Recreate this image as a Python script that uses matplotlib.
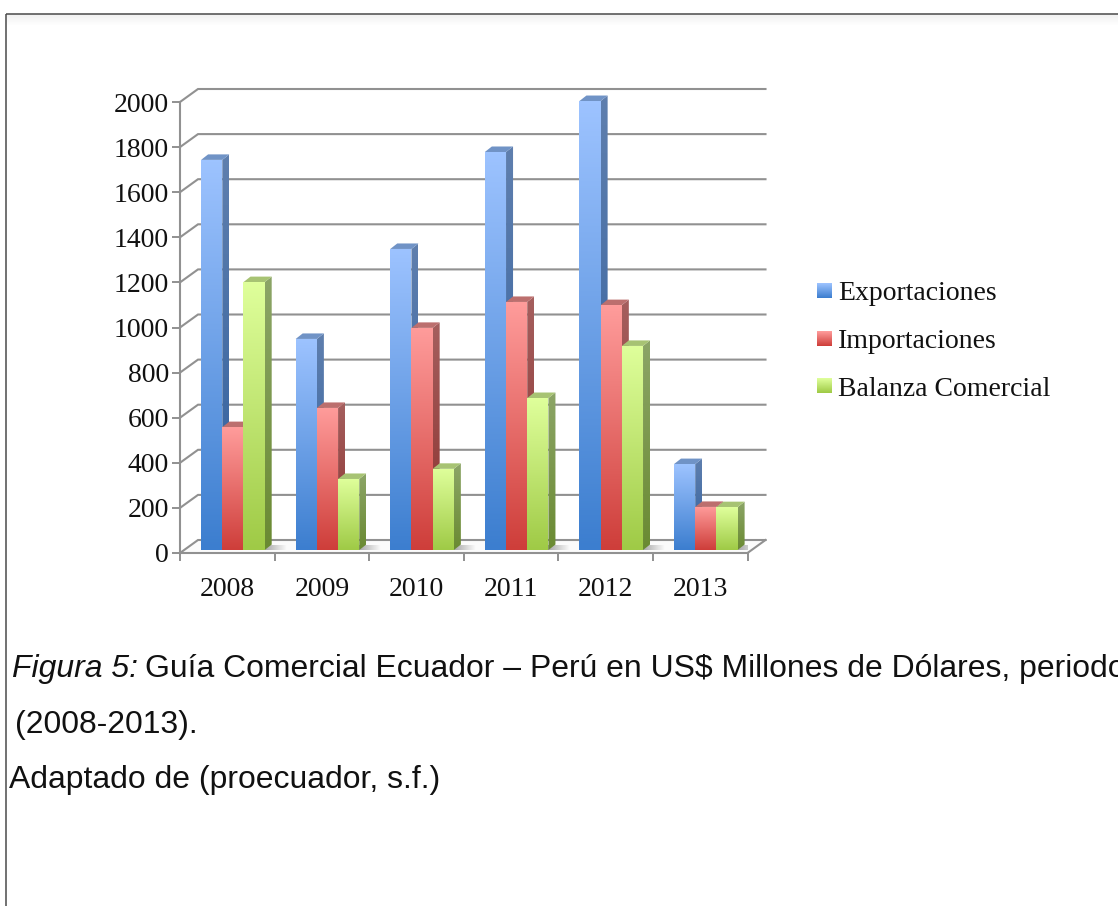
import numpy as np
import matplotlib
matplotlib.use("Agg")
import matplotlib.pyplot as plt
from matplotlib.colors import LinearSegmentedColormap
from matplotlib.patches import Polygon

years = ["2008", "2009", "2010", "2011", "2012", "2013"]
series_names = ["Exportaciones", "Importaciones", "Balanza Comercial"]
exportaciones = [1730, 936, 1335, 1765, 1991, 381]
importaciones = [545, 630, 985, 1100, 1086, 191]
balanza = [1188, 315, 360, 674, 905, 190]
y_ticks = list(range(0, 2001, 200))

front_top = ["#9DC3FF", "#FF9C9B", "#DFFF9B"]
front_bot = ["#3C7ECF", "#CE3E3A", "#9FCA46"]
side_top = ["#5F7FAE", "#A55F5E", "#8CA567"]
side_bot = ["#2F5F9E", "#8A302D", "#6A8A32"]
top_face = ["#7093C6", "#BC6F6E", "#A7C373"]
GRID = "#919191"

W, H = 1118, 906
fig = plt.figure(figsize=(W / 100, H / 100), dpi=100, facecolor="white")

# page layer (pixel coordinates)
page = fig.add_axes([0, 0, 1, 1], zorder=0)
page.set_xlim(0, W)
page.set_ylim(H, 0)
page.axis("off")
page.plot([6, W], [13.5, 13.5], color="#4a4a4a", lw=1.1, solid_capstyle="butt")
page.plot([6, 6], [13.5, H], color="#4a4a4a", lw=1.1, solid_capstyle="butt")
page.imshow(np.linspace(0, 1, 12).reshape(-1, 1), extent=(7, W, 26, 14), cmap=LinearSegmentedColormap.from_list("s", ["#f1f1f1", "#ffffff"]), aspect="auto", zorder=0)
page.set_xlim(0, W)
page.set_ylim(H, 0)

CAP = dict(family="Liberation Sans", fontsize=22.95, color="#111111", va="baseline", ha="left")
page.text(12, 677, "Figura 5:", style="italic", **CAP)
page.text(145, 677, "Guía Comercial Ecuador – Perú en US$ Millones de Dólares, periodo", **CAP)
page.text(15, 733, "(2008-2013).", **CAP)
page.text(9, 788, "Adaptado de (proecuador, s.f.)", **CAP)

# chart layer: front plane of the 3D box
L, R, T, B = 180.0, 747.5, 102.0, 553.0
ax = fig.add_axes([L / W, 1 - B / H, (R - L) / W, (B - T) / H], zorder=1)
ax.patch.set_alpha(0)
n = len(years)
xpx = (R - L) / n            # px per category
ypx = (B - T) / 2000.0       # px per value unit
to_x = lambda px: px / xpx
to_y = lambda px: px / ypx

DX, DY = to_x(18), to_y(13)
x0, x1 = -0.5, n - 0.5

# floor
ax.add_patch(Polygon([(x0, 0), (x1, 0), (x1 + DX, DY), (x0 + DX, DY)], closed=True, fc="#fbfbfb", ec="none", zorder=1, clip_on=False))

# walls gridlines
for v in y_ticks:
    ax.plot([x0, x0 + DX, x1 + DX], [v, v + DY, v + DY], color=GRID, lw=1.5, zorder=2, clip_on=False, solid_joinstyle="miter")
ax.plot([x1, x1 + DX], [0, DY], color=GRID, lw=1.5, zorder=2, clip_on=False)

shadow_cm = LinearSegmentedColormap.from_list("sh", ["#a8a8a8", "#fbfbfb"])


def grad_face(verts, c_top, c_bot, z):
    verts = np.array(verts)
    cm = LinearSegmentedColormap.from_list("g", [c_top, c_bot])
    ext = (verts[:, 0].min(), verts[:, 0].max(), verts[:, 1].min(), verts[:, 1].max())
    im = ax.imshow(np.linspace(0, 1, 128).reshape(-1, 1), extent=ext, cmap=cm, aspect="auto", origin="upper", zorder=z, interpolation="bilinear")
    poly = Polygon(verts, closed=True, transform=ax.transData, fc="none", ec="none", clip_on=False)
    ax.add_patch(poly)
    im.set_clip_path(poly)
    im.set_clip_box(fig.bbox)


bw = to_x(21.2)
dx, dy = to_x(7), to_y(5.5)
cluster_shift = to_x(5.6)
base = to_y(3)
all_series = [exportaciones, importaciones, balanza]

z = 3.0
for c in range(n):
    left = c + cluster_shift - 1.5 * bw
    r_edge = left + 3 * bw
    # soft shadow on the floor
    ax.imshow(np.linspace(0, 1, 32).reshape(1, -1), extent=(r_edge, r_edge + to_x(22), base, base + to_y(5)),
              cmap=shadow_cm, aspect="auto", zorder=z, interpolation="bilinear")
    z += 0.01
    for s, vals in enumerate(all_series):
        v = vals[c]
        xa = left + s * bw
        xb = xa + bw
        top = base + v
        # side face
        grad_face([(xb, base), (xb + dx, base + dy), (xb + dx, top + dy), (xb, top)], side_top[s], side_bot[s], z)
        z += 0.01
        # top face
        ax.add_patch(Polygon([(xa, top), (xb, top), (xb + dx, top + dy), (xa + dx, top + dy)], closed=True, fc=top_face[s], ec="none", zorder=z, clip_on=False))
        z += 0.01
        # front face
        grad_face([(xa, base), (xb, base), (xb, top), (xa, top)], front_top[s], front_bot[s], z)
        z += 0.01

ax.set_xlim(x0, x1)
ax.set_ylim(0, 2000)

for sp in ("top", "right"):
    ax.spines[sp].set_visible(False)
for sp in ("left", "bottom"):
    ax.spines[sp].set_color(GRID)
    ax.spines[sp].set_linewidth(1.5)
    ax.spines[sp].set_zorder(2.5)

ax.set_yticks(y_ticks)
ax.set_yticklabels([str(v) for v in y_ticks])
ax.set_xticks(np.arange(x0, x1 + 0.01, 1.0))
ax.set_xticklabels([])
ax.set_xticks(np.arange(n), minor=True)
ax.set_xticklabels(years, minor=True)
LBL = 20
ax.tick_params(axis="y", which="major", length=6, width=1.4, color=GRID, pad=2, labelsize=LBL, labelcolor="#111111", labelfontfamily="Liberation Serif")
ax.tick_params(axis="x", which="major", length=6, width=1.4, color=GRID)
ax.tick_params(axis="x", which="minor", length=0, pad=17, labelsize=LBL, labelcolor="#111111", labelfontfamily="Liberation Serif")
for lab in ax.get_xticklabels(minor=True):
    lab.set_x(lab.get_position()[0])

# legend
leg_y = [290.5, 338.5, 386]
for s, name in enumerate(series_names):
    y = leg_y[s]
    cm = LinearSegmentedColormap.from_list("l", [front_top[s], front_bot[s]])
    page.imshow(np.linspace(0, 1, 32).reshape(-1, 1), extent=(817, 832, y + 7.5, y - 7.5), cmap=cm, aspect="auto", zorder=1)
    page.text(838, y + 3, name, family="Liberation Serif", fontsize=LBL, color="#111111", va="center", ha="left")
page.set_xlim(0, W)
page.set_ylim(H, 0)

fig.savefig("out.png", dpi=100, facecolor="white")
